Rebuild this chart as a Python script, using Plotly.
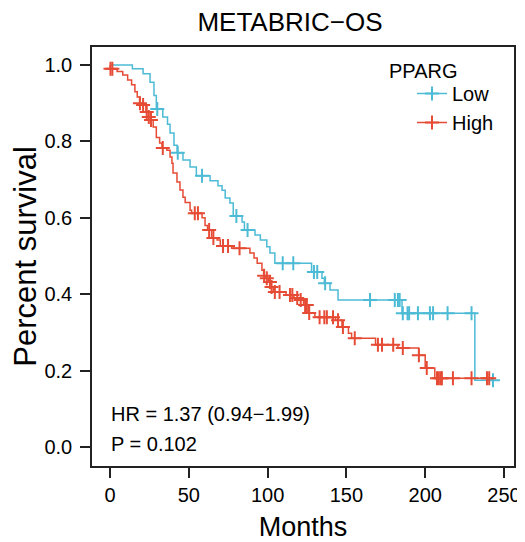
import plotly.graph_objects as go

# ---- data (months, survival probability) ----
low_time = [0, 14.2, 21, 25.4, 27.9, 29.4, 33.5, 36.5, 38.1, 40.6, 42.6, 46.3, 50.8, 54.8,
            63.5, 68.5, 71.1, 73.1, 76.1, 78.2, 83.8, 85.3, 92, 95.4, 99.5, 101.5, 104.6,
            127.9, 134.5, 136, 139.6, 144.7, 185.3, 231.5]
low_surv = [1.0, 0.99, 0.977, 0.955, 0.92, 0.885, 0.864, 0.845, 0.822, 0.79, 0.77, 0.751,
            0.733, 0.71, 0.697, 0.684, 0.672, 0.652, 0.639, 0.605, 0.589, 0.568, 0.555,
            0.542, 0.524, 0.508, 0.481, 0.458, 0.442, 0.429, 0.411, 0.385, 0.35, 0.175]
low_censor = [30, 43, 58.4, 80.2, 87.3, 109.6, 116.3, 129.4, 131.5, 136.5, 165, 180.7,
              182.7, 183.8, 185.8, 188.8, 189.8, 195.4, 203, 205, 214.2, 229.4, 243]
low_end = 243

high_time = [0, 0.1, 4.5, 8.1, 11.2, 13.7, 15.8, 17.3, 18.8, 20.8, 22.8, 24.4, 25.8, 27.4,
             29.4, 31.5, 33, 36.1, 38.1, 39.3, 40, 42.5, 44.4, 46.3, 47.7, 50.8, 51.8, 58.4,
             60.3, 61.9, 64.5, 68, 70, 77.2, 88.8, 91.4, 93.4, 96.4, 97.5, 99, 100.5, 102,
             103.6, 111.7, 116.7, 120.8, 122.8, 125.9, 130, 143.1, 147.2, 151.3, 153.3,
             168.5, 182.7, 195.9, 200, 206.1]
high_surv = [1.0, 0.99, 0.983, 0.974, 0.961, 0.948, 0.93, 0.916, 0.9, 0.895, 0.877, 0.864,
             0.856, 0.838, 0.81, 0.796, 0.783, 0.777, 0.759, 0.743, 0.717, 0.694, 0.673,
             0.654, 0.64, 0.62, 0.612, 0.6, 0.58, 0.568, 0.547, 0.542, 0.526, 0.52, 0.508,
             0.495, 0.481, 0.463, 0.448, 0.442, 0.432, 0.419, 0.406, 0.398, 0.39, 0.385,
             0.372, 0.351, 0.34, 0.332, 0.314, 0.298, 0.285, 0.268, 0.259, 0.24, 0.207, 0.18]
high_censor = [0.3, 1.5, 19, 21, 23.3, 24.6, 26, 33.5, 53.8, 55.8, 62.9, 65.6, 71.7, 74.9,
               82.2, 97.8, 99.5, 101.5, 102.5, 104.6, 107.6, 114.2, 115.7, 118.8, 121, 123.8,
               124.9, 126.4, 133, 136, 137.6, 141.5, 144.7, 147.8, 155.3, 170, 172.6, 179.7,
               185.8, 196, 201, 207.5, 208.7, 210, 210.6, 217.6, 229.4, 239.2, 240.6]
high_end = 241

x_ticks = [0, 50, 100, 150, 200, 250]
y_ticks = [0.0, 0.2, 0.4, 0.6, 0.8, 1.0]
y_tick_text = ["0.0", "0.2", "0.4", "0.6", "0.8", "1.0"]

COL_LOW = "#4DBBD5"
COL_HIGH = "#E64B35"
FONT = "Arial, Liberation Sans, Helvetica, sans-serif"

# the page body has an 8px default margin, so the figure is 8px smaller on the
# right/bottom and all offsets are measured from the figure's own corner
FIG_W, FIG_H = 517, 534
M_L, M_R, M_T, M_B = 84, 11, 39, 76
PLOT_W = FIG_W - M_L - M_R
PLOT_H = FIG_H - M_T - M_B


def surv_at(times, survs, t):
    s = survs[0]
    for ti, si in zip(times, survs):
        if ti <= t:
            s = si
    return s


fig = go.Figure()

for name, times, survs, cens, end, col in [
    ("Low", low_time, low_surv, low_censor, low_end, COL_LOW),
    ("High", high_time, high_surv, high_censor, high_end, COL_HIGH),
]:
    fig.add_trace(go.Scatter(
        x=times + [end], y=survs + [survs[-1]], mode="lines",
        line=dict(color=col, width=1.5, shape="hv"), showlegend=False, hoverinfo="skip"))
    fig.add_trace(go.Scatter(
        x=cens, y=[surv_at(times, survs, t) for t in cens], mode="markers",
        marker=dict(symbol="cross-thin", size=10, line=dict(color=col, width=2)),
        showlegend=False, hoverinfo="skip"))

# legend entries
for name, col in [("Low", COL_LOW), ("High", COL_HIGH)]:
    fig.add_trace(go.Scatter(
        x=[None], y=[None], mode="lines+markers", name=name,
        line=dict(color=col, width=1.5),
        marker=dict(symbol="cross-thin", size=10, line=dict(color=col, width=2))))

axis_common = dict(
    showline=True, mirror=True, linecolor="#222222", linewidth=1.5,
    ticks="outside", ticklen=10, tickwidth=1.5, tickcolor="#222222",
    showgrid=False, zeroline=False, automargin=False,
    tickfont=dict(family=FONT, size=20, color="black"),
)


def px_x(sx):  # screen x (reference pixels) -> paper fraction of plot area
    return (sx - 8 - M_L) / PLOT_W


def px_y(sy):
    return 1 - (sy - 8 - M_T) / PLOT_H


fig.update_layout(
    width=FIG_W, height=FIG_H,
    margin=dict(l=M_L, r=M_R, t=M_T, b=M_B, autoexpand=False),
    paper_bgcolor="white", plot_bgcolor="white",
    font=dict(family=FONT, color="black"),
    title=dict(text="METABRIC\u2212OS", x=282 / FIG_W, xanchor="center",
               y=1 - 14 / FIG_H, yanchor="middle", automargin=False,
               font=dict(family=FONT, size=26, color="black")),
    xaxis=dict(range=[-11.42, 256.35], tickvals=x_ticks, ticklabelstandoff=0, **axis_common,
               title=dict(text="Months", font=dict(family=FONT, size=27, color="black"), standoff=12)),
    yaxis=dict(range=[-0.0497, 1.0471], tickvals=y_ticks, ticktext=y_tick_text,
               ticklabelstandoff=4, **axis_common,
               title=dict(text="Percent survival", font=dict(family=FONT, size=31, color="black"), standoff=14)),
    showlegend=True,
    legend=dict(x=px_x(412), y=px_y(74), xanchor="left", yanchor="top",
                font=dict(family=FONT, size=20, color="black"), bgcolor="rgba(0,0,0,0)",
                itemwidth=30, tracegroupgap=0),
    annotations=[
        dict(text="PPARG", xref="paper", yref="paper", x=px_x(387), y=px_y(71),
             xanchor="left", yanchor="middle", showarrow=False,
             font=dict(family=FONT, size=20, color="black")),
        dict(text="HR = 1.37 (0.94\u22121.99)", xref="x", yref="y", x=-0.8, y=0.087,
             xanchor="left", yanchor="middle", showarrow=False,
             font=dict(family=FONT, size=20, color="black")),
        dict(text="P = 0.102", xref="x", yref="y", x=-0.8, y=0.008,
             xanchor="left", yanchor="middle", showarrow=False,
             font=dict(family=FONT, size=20, color="black")),
    ],
)

fig.write_html("out.html")
